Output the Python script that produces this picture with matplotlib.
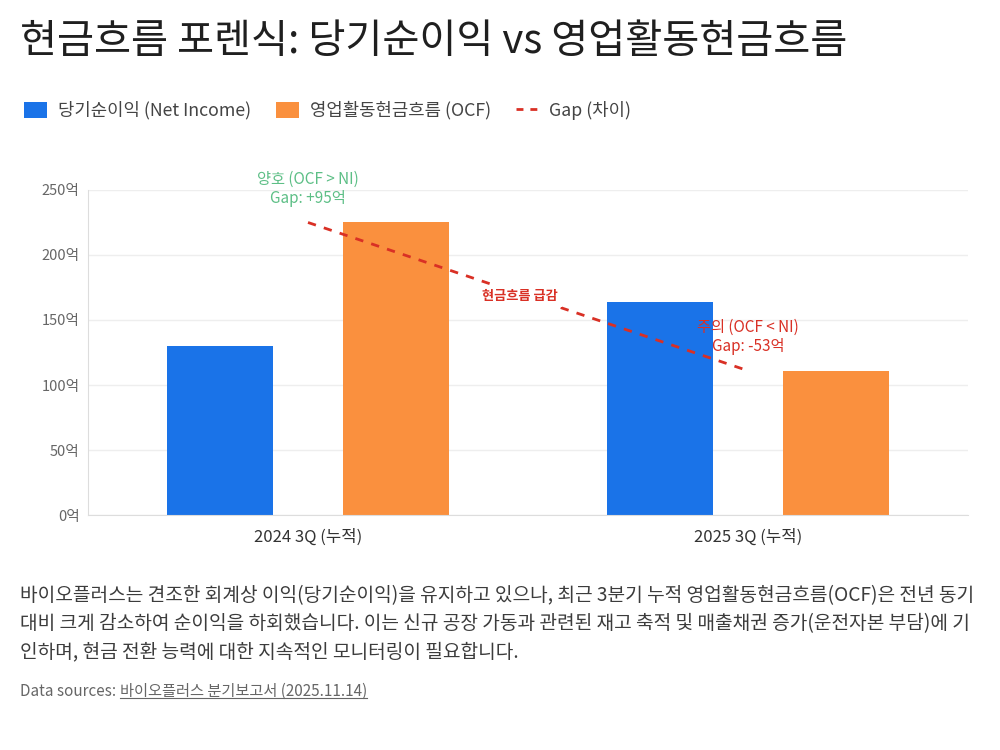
import matplotlib

matplotlib.use("Agg")
import matplotlib.pyplot as plt
from matplotlib.lines import Line2D
from matplotlib.patches import Patch

plt.rcParams["font.family"] = ["Noto Sans CJK KR", "DejaVu Sans"]

categories = ["2024 3Q (누적)", "2025 3Q (누적)"]
net_income = [130, 164]
ocf = [225, 111]
y_ticks = [0, 50, 100, 150, 200, 250]

BLUE = "#1a73e8"
ORANGE = "#fa903e"
RED = "#d93025"
GREEN = "#5dbf86"

fig = plt.figure(figsize=(10, 7.5), dpi=100)
ax = fig.add_axes([0.088, 0.3133, 0.88, 0.4334])

x = list(range(len(categories)))
w = 0.24
ax.bar([i - 0.2 for i in x], net_income, width=w, color=BLUE, zorder=2)
ax.bar([i + 0.2 for i in x], ocf, width=w, color=ORANGE, zorder=2)
ax.plot(x, ocf, color=RED, linestyle="--", dashes=(3, 3), linewidth=2, zorder=3)

ax.set_xlim(-0.5, 1.5)
ax.set_ylim(0, 250)
ax.set_yticks(y_ticks)
ax.set_yticklabels([f"{v}억" for v in y_ticks], color="#666666", fontsize=10.5)
ax.set_xticks(x)
ax.set_xticklabels(categories, fontsize=12, color="#333333")
ax.tick_params(axis="both", length=0, pad=6)
ax.tick_params(axis="x", pad=10)
ax.grid(axis="y", color="#eeeeee", linewidth=1, zorder=0)
for side in ["top", "right"]:
    ax.spines[side].set_visible(False)
for side in ["left", "bottom"]:
    ax.spines[side].set_color("#dddddd")

ax.text(0, 251, "양호 (OCF > NI)\nGap: +95억", color=GREEN, fontsize=11,
        ha="center", va="center", linespacing=1.15, clip_on=False)
ax.text(0.482, 168.5, "현금흐름 급감", color=RED, fontsize=9.5, fontweight="bold",
        ha="center", va="center", zorder=4,
        bbox=dict(boxstyle="square,pad=0.3", facecolor="white", edgecolor="none"))
ax.text(1.0, 137, "주의 (OCF < NI)\nGap: -53억", color=RED, fontsize=11,
        ha="center", va="center", linespacing=1.15, zorder=4)

fig.text(0.02, 0.945, "현금흐름 포렌식: 당기순이익 vs 영업활동현금흐름", fontsize=29,
         color="#1f1f1f", ha="left", va="center")

handles = [
    Patch(facecolor=BLUE, edgecolor="none", label="당기순이익 (Net Income)"),
    Patch(facecolor=ORANGE, edgecolor="none", label="영업활동현금흐름 (OCF)"),
    Line2D([0], [0], color=RED, linestyle="--", dashes=(2.5, 2.5), linewidth=2, label="Gap (차이)"),
]
fig.legend(handles=handles, loc="center left", bbox_to_anchor=(0.008, 0.853), ncol=3,
           frameon=False, fontsize=12.8, handlelength=1.3, handleheight=1.0,
           handletextpad=0.6, columnspacing=1.4, labelcolor="#444444")

para = [
    "바이오플러스는 견조한 회계상 이익(당기순이익)을 유지하고 있으나, 최근 3분기 누적 영업활동현금흐름(OCF)은 전년 동기",
    "대비 크게 감소하여 순이익을 하회했습니다. 이는 신규 공장 가동과 관련된 재고 축적 및 매출채권 증가(운전자본 부담)에 기",
    "인하며, 현금 전환 능력에 대한 지속적인 모니터링이 필요합니다.",
]
for k, line in enumerate(para):
    fig.text(0.02, 1 - (596 + 28 * k) / 750, line, fontsize=13.8, color="#3c3c3c",
             ha="left", va="center")

src_label = fig.text(0.02, 1 - 691 / 750, "Data sources: ", fontsize=11, color="#666666",
                     ha="left", va="center")
fig.canvas.draw()
bb = src_label.get_window_extent()
src_link = fig.text(bb.x1 / 1000, 1 - 691 / 750, "바이오플러스 분기보고서 (2025.11.14)",
                    fontsize=11, color="#666666", ha="left", va="center")
fig.canvas.draw()
lb = src_link.get_window_extent()
fig.add_artist(Line2D([lb.x0 / 1000, lb.x1 / 1000], [lb.y0 / 750 + 0.002] * 2,
                      color="#666666", linewidth=0.8))

fig.savefig("out.png", dpi=100, facecolor="white")
